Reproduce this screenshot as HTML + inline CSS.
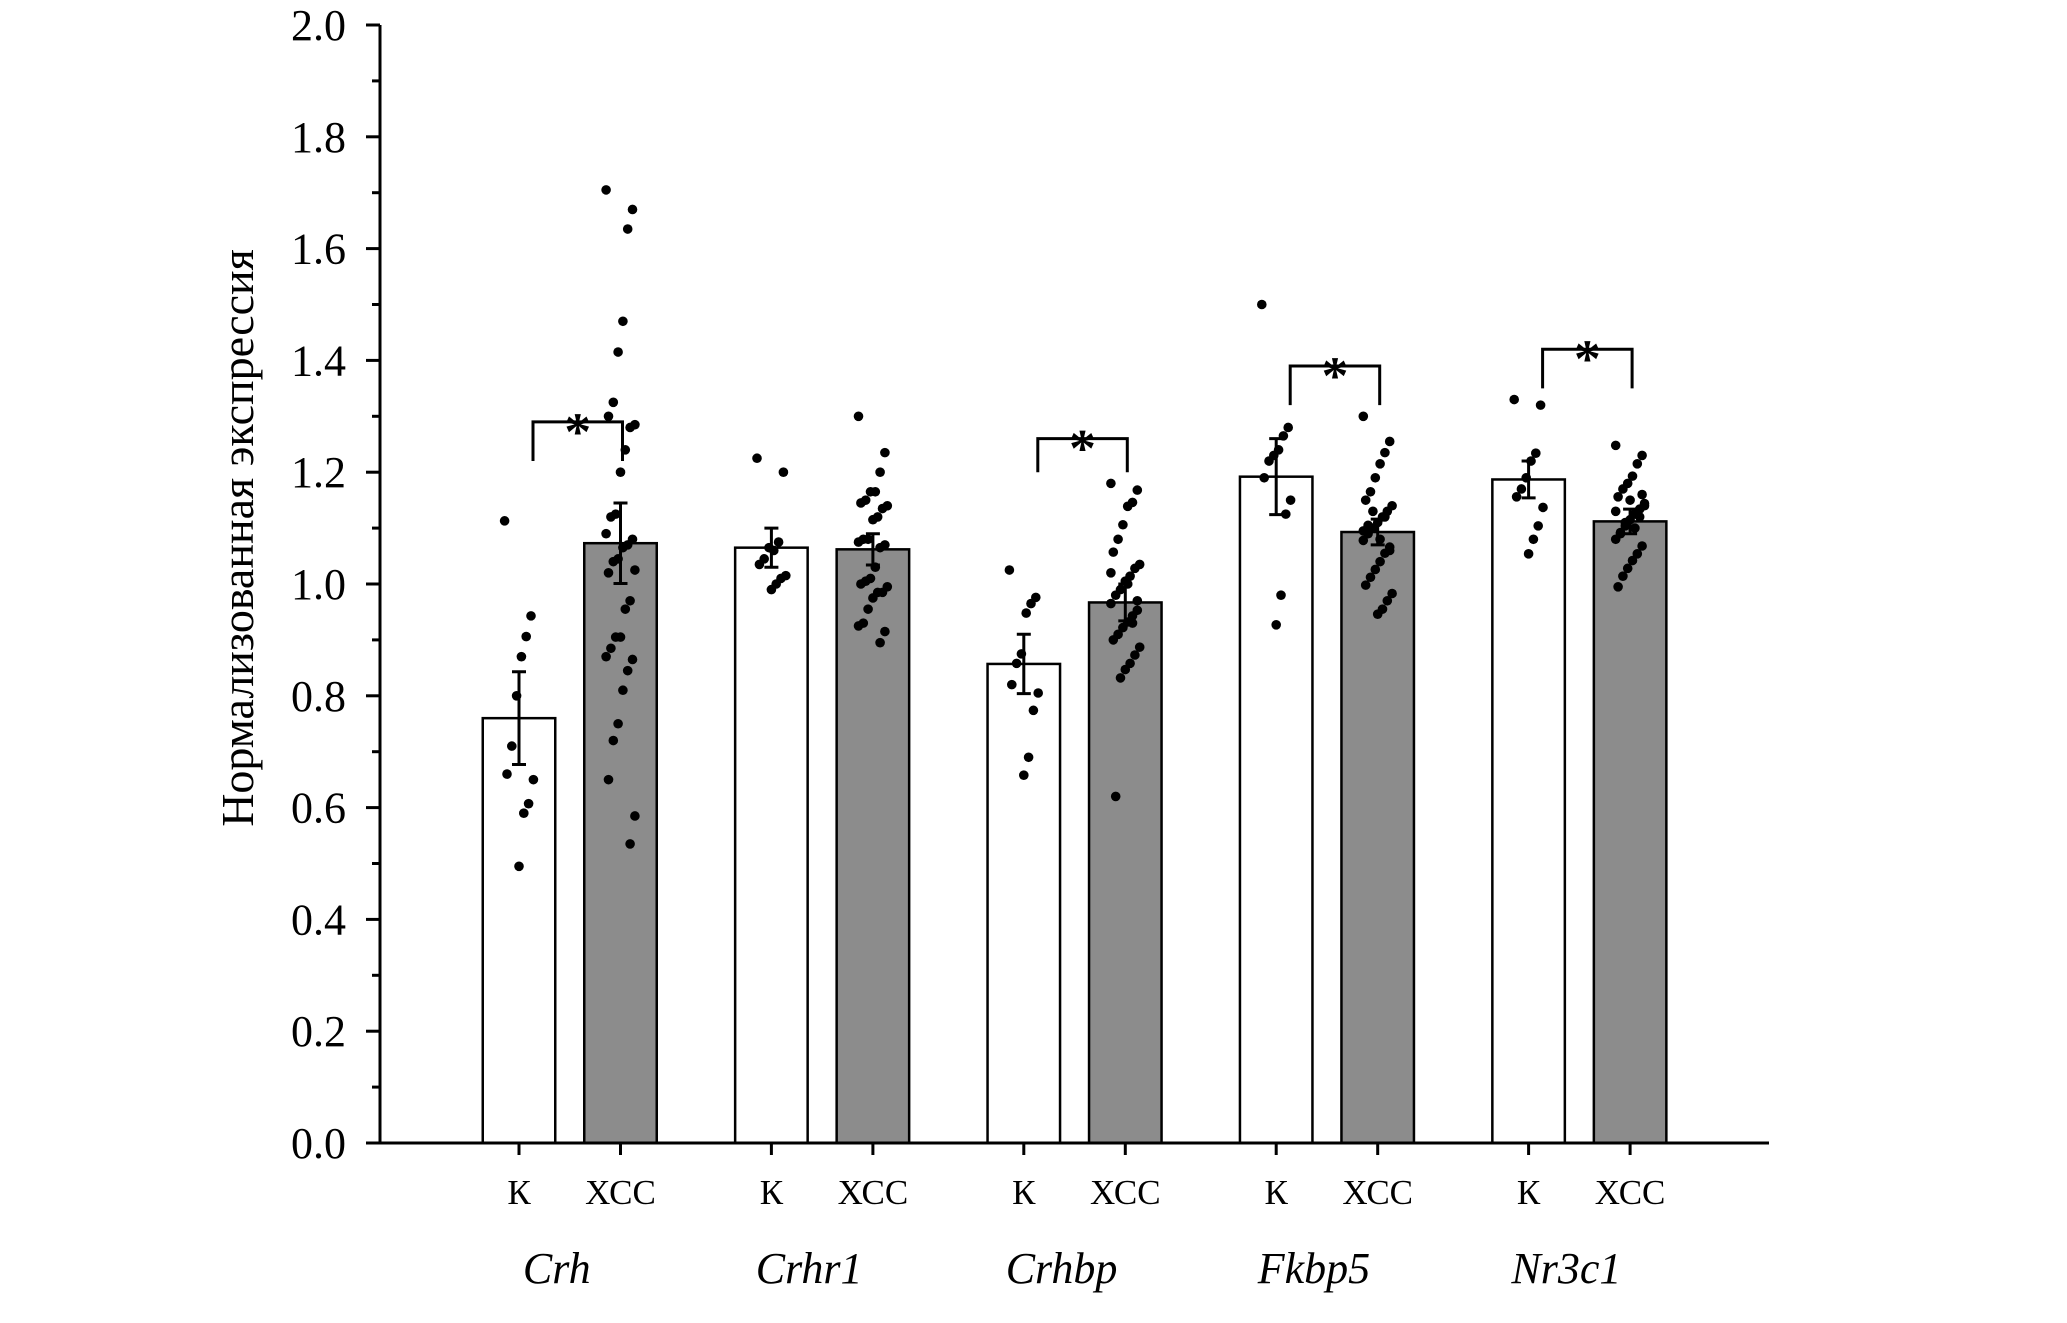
<!DOCTYPE html>
<html><head><meta charset="utf-8"><style>
html,body{margin:0;padding:0;background:#fff;}
svg{display:block;font-family:"Liberation Serif","DejaVu Serif",serif;}
</style></head><body>
<svg id="chart" width="2067" height="1323" viewBox="0 0 2067 1323"></svg>
<script>
const genes = ["Crh","Crhr1","Crhbp","Fkbp5","Nr3c1"];
const groups = ["К","ХСС"];
const meanK = [0.76,1.065,0.857,1.192,1.187];
const meanX = [1.073,1.062,0.967,1.093,1.112];
const semK = [0.083,0.035,0.053,0.068,0.033];
const semX = [0.072,0.028,0.033,0.023,0.022];
const sigBracket = [1.29,null,1.26,1.39,1.42];
const sigEnds = [1.22,null,1.2,1.32,1.35];
const yTicks = [0,0.2,0.4,0.6,0.8,1.0,1.2,1.4,1.6,1.8,2.0];
const yTickLabels = ["0.0","0.2","0.4","0.6","0.8","1.0","1.2","1.4","1.6","1.8","2.0"];
const dotsK = [
 [1.113,0.943,0.906,0.87,0.80,0.71,0.66,0.65,0.607,0.59,0.495],
 [1.225,1.20,1.075,1.06,1.065,1.045,1.035,1.015,1.01,1.0,0.99],
 [1.025,0.976,0.965,0.948,0.875,0.858,0.82,0.805,0.774,0.69,0.658],
 [1.50,1.28,1.265,1.24,1.23,1.22,1.19,1.15,1.125,0.98,0.927],
 [1.33,1.32,1.234,1.22,1.19,1.17,1.156,1.137,1.104,1.08,1.054]
];
const dotsX = [
 [1.705,1.67,1.635,1.47,1.415,1.325,1.30,1.285,1.28,1.24,1.20,1.125,1.12,1.09,1.08,1.07,1.065,1.045,1.04,1.02,1.025,0.97,0.955,0.905,0.905,0.885,0.87,0.865,0.845,0.81,0.75,0.72,0.65,0.585,0.535],
 [1.30,1.235,1.20,1.165,1.165,1.15,1.145,1.14,1.135,1.12,1.115,1.08,1.08,1.075,1.07,1.065,1.03,1.01,1.005,1.0,0.995,0.985,0.985,0.975,0.955,0.93,0.925,0.915,0.895],
 [1.18,1.168,1.146,1.139,1.106,1.08,1.057,1.035,1.028,1.014,1.005,0.99,0.98,0.965,0.953,0.943,0.932,0.922,0.91,0.90,0.887,0.873,0.858,0.847,0.832,0.62,1.02,0.97,0.93,1.0],
 [1.30,1.255,1.235,1.215,1.19,1.165,1.15,1.14,1.13,1.12,1.11,1.10,1.09,1.078,1.066,1.055,1.04,1.026,1.012,0.998,0.983,0.97,0.955,0.946,1.13,1.105,1.095,1.06,1.12,1.08],
 [1.248,1.23,1.215,1.193,1.18,1.17,1.156,1.144,1.134,1.125,1.115,1.104,1.092,1.08,1.068,1.054,1.042,1.028,1.014,0.995,1.14,1.12,1.10,1.15,1.11,1.09,1.13,1.16]
];

const NS="http://www.w3.org/2000/svg";
const svg=document.getElementById('chart');
const X0=380, X1=1769, Y0=1143, YS=559;
const y=v=>Y0-v*YS;
const xK=i=>519+i*252.4;
const xX=i=>519+101.5+i*252.4;
const BW=72.5;
function el(t,a,p){const e=document.createElementNS(NS,t);for(const k in a)e.setAttribute(k,a[k]);(p||svg).appendChild(e);return e;}

genes.forEach((g,i)=>{
  const gg=el('g',{});
  
  
  [[xK(i),meanK[i],semK[i],'#ffffff',dotsK[i],'k'],[xX(i),meanX[i],semX[i],'#8c8c8c',dotsX[i],'xcc']].forEach(([cx,m,s,fill,dots,nm])=>{
    const b=el('rect',{x:cx-BW/2,y:y(m),width:BW,height:Y0-y(m),fill:fill,stroke:'#000','stroke-width':2.5},gg);
    
    
    const e=el('path',{d:`M${cx} ${y(m-s)}V${y(m+s)}M${cx-7} ${y(m-s)}H${cx+7}M${cx-7} ${y(m+s)}H${cx+7}`,stroke:'#000','stroke-width':3,fill:'none'},gg);
    
    
    dots.forEach((v,j)=>{
      const off=(((j*37)%13)-6)*2.4;
      const d=el('circle',{cx:cx+off,cy:y(v),r:4.8,fill:'#000'},gg);
      
      
    });
  });
  if(sigBracket[i]!==null){
    const a=xK(i)+14,b=xX(i)+2;
    const br=el('path',{d:`M${a} ${y(sigEnds[i])}V${y(sigBracket[i])}H${b}V${y(sigEnds[i])}`,stroke:'#000','stroke-width':3,fill:'none'},gg);
    
    
    const st=el('text',{x:(a+b)/2,y:y(sigBracket[i])+28,'font-size':54,'text-anchor':'middle','font-weight':'bold'},gg);
    st.textContent='*';
    
    
  }
  const tk=el('path',{d:`M${xK(i)} ${Y0}v12M${xX(i)} ${Y0}v12`,stroke:'#000','stroke-width':3},gg);
  
  
  [[xK(i),groups[0]],[xX(i),groups[1]]].forEach(([cx,t])=>{
    const l=el('text',{x:cx,y:1204,'font-size':35,'text-anchor':'middle'},gg);
    l.textContent=t;
    
    
  });
  const gl=el('text',{x:(xK(i)+xX(i))/2-13,y:1283,'font-size':44,'font-style':'italic','text-anchor':'middle'},gg);
  gl.textContent=g;
  
  
});

const ax=el('path',{d:`M${X0} ${y(2)}V${Y0}H${X1}`,stroke:'#000','stroke-width':3,fill:'none'});


yTicks.forEach((v,i)=>{
  const t=el('path',{d:`M${X0-14} ${y(v)}H${X0}`,stroke:'#000','stroke-width':3});
  
  
  if(i<yTicks.length-1){
    const mt=el('path',{d:`M${X0-8} ${y(v+0.1)}H${X0}`,stroke:'#000','stroke-width':3});
    
    
  }
  const l=el('text',{x:346,y:y(v)+15,'font-size':44,'text-anchor':'end'});
  l.textContent=yTickLabels[i];
  
  
});
const yt=el('text',{x:0,y:0,'font-size':46,'text-anchor':'middle',transform:'translate(253,538) rotate(-90)'});
yt.textContent='Нормализованная экспрессия';


</script>
</body></html>
